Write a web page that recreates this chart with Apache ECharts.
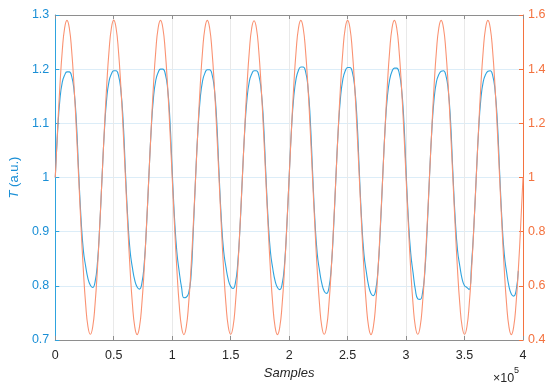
<!DOCTYPE html>
<html>
<head>
<meta charset="utf-8">
<script src="https://cdn.jsdelivr.net/npm/echarts@6/dist/echarts.min.js"></script>
<style>
html,body{margin:0;padding:0;background:#fff;}
#c{width:550px;height:388px;}
</style>
</head>
<body>
<div id="c"></div>
<script>
// x positions in units of 1e5 samples; one value every 0.02 (2000 samples)
const sampleStep = 0.02;
const xTicks = [0, 0.5, 1, 1.5, 2, 2.5, 3, 3.5, 4];
const leftTicks = [0.7, 0.8, 0.9, 1, 1.1, 1.2, 1.3];
const rightTicks = [0.4, 0.6, 0.8, 1, 1.2, 1.4, 1.6];

// Blue series T (left axis)
const blueT = [
  1.000, 1.085, 1.145, 1.176, 1.189, 1.195, 1.195, 1.187, 1.162, 1.105, 1.010, 0.925, 0.866, 0.836, 0.813, 0.801, 0.797, 0.807, 0.841, 0.910,
  1.000, 1.086, 1.146, 1.178, 1.191, 1.197, 1.197, 1.189, 1.163, 1.106, 1.011, 0.924, 0.864, 0.833, 0.810, 0.798, 0.794, 0.804, 0.839, 0.909,
  1.000, 1.087, 1.148, 1.180, 1.194, 1.200, 1.200, 1.192, 1.166, 1.108, 1.012, 0.924, 0.862, 0.826, 0.797, 0.778, 0.779, 0.786, 0.815, 0.900,
  1.000, 1.087, 1.147, 1.179, 1.193, 1.199, 1.199, 1.191, 1.165, 1.107, 1.011, 0.924, 0.864, 0.834, 0.811, 0.799, 0.795, 0.805, 0.840, 0.909,
  1.000, 1.086, 1.146, 1.178, 1.191, 1.197, 1.197, 1.189, 1.163, 1.106, 1.011, 0.923, 0.863, 0.832, 0.809, 0.797, 0.793, 0.803, 0.838, 0.909,
  1.000, 1.089, 1.150, 1.183, 1.198, 1.204, 1.204, 1.196, 1.169, 1.110, 1.013, 0.922, 0.860, 0.828, 0.804, 0.790, 0.786, 0.796, 0.833, 0.906,
  1.000, 1.088, 1.149, 1.182, 1.197, 1.203, 1.203, 1.195, 1.168, 1.109, 1.012, 0.921, 0.858, 0.826, 0.800, 0.786, 0.782, 0.792, 0.830, 0.905,
  1.000, 1.088, 1.149, 1.181, 1.196, 1.202, 1.202, 1.194, 1.167, 1.109, 1.012, 0.922, 0.860, 0.824, 0.792, 0.776, 0.775, 0.786, 0.824, 0.903,
  1.000, 1.086, 1.146, 1.177, 1.190, 1.196, 1.197, 1.189, 1.163, 1.106, 1.011, 0.925, 0.866, 0.836, 0.812, 0.800, 0.797, 0.793, 0.840, 0.910,
  1.000, 1.086, 1.146, 1.177, 1.190, 1.196, 1.197, 1.189, 1.163, 1.106, 1.011, 0.921, 0.858, 0.825, 0.799, 0.785, 0.781, 0.790, 0.828
];

// Orange series (right axis)
const orangeS = [
  1.000, 1.179, 1.341, 1.469, 1.552, 1.580, 1.552, 1.469, 1.341, 1.179, 1.000, 0.821, 0.659, 0.531, 0.448, 0.421, 0.448, 0.531, 0.659, 0.821,
  1.000, 1.179, 1.341, 1.469, 1.552, 1.581, 1.552, 1.469, 1.341, 1.179, 1.000, 0.821, 0.659, 0.531, 0.448, 0.420, 0.448, 0.531, 0.659, 0.821,
  1.000, 1.179, 1.342, 1.470, 1.553, 1.580, 1.552, 1.469, 1.341, 1.179, 1.000, 0.821, 0.659, 0.530, 0.447, 0.420, 0.448, 0.531, 0.659, 0.821,
  1.000, 1.179, 1.341, 1.469, 1.552, 1.580, 1.552, 1.469, 1.341, 1.179, 1.000, 0.821, 0.659, 0.531, 0.448, 0.421, 0.448, 0.531, 0.659, 0.821,
  1.000, 1.179, 1.341, 1.469, 1.552, 1.579, 1.552, 1.469, 1.341, 1.179, 1.000, 0.821, 0.659, 0.531, 0.448, 0.420, 0.448, 0.531, 0.659, 0.821,
  1.000, 1.179, 1.341, 1.469, 1.552, 1.580, 1.552, 1.469, 1.341, 1.179, 1.000, 0.821, 0.659, 0.531, 0.448, 0.421, 0.448, 0.531, 0.659, 0.821,
  1.000, 1.179, 1.341, 1.469, 1.552, 1.580, 1.552, 1.469, 1.341, 1.179, 1.000, 0.821, 0.659, 0.531, 0.448, 0.420, 0.448, 0.531, 0.659, 0.821,
  1.000, 1.179, 1.341, 1.469, 1.552, 1.580, 1.552, 1.469, 1.341, 1.179, 1.000, 0.821, 0.659, 0.531, 0.448, 0.421, 0.448, 0.531, 0.659, 0.821,
  1.000, 1.179, 1.341, 1.469, 1.552, 1.580, 1.552, 1.469, 1.341, 1.179, 1.000, 0.821, 0.659, 0.531, 0.448, 0.421, 0.448, 0.531, 0.659, 0.821,
  1.000, 1.179, 1.341, 1.469, 1.552, 1.580, 1.552, 1.469, 1.341, 1.179, 1.000, 0.821, 0.659, 0.531, 0.448, 0.420, 0.448, 0.531, 0.659, 0.821,
  1.000
];

const BLUE_LINE = '#2ea3de';
const BLUE_TEXT = '#1a8fd6';
const ORANGE_LINE = '#fa9272';
const ORANGE_TEXT = '#f4723f';
const AX_GREY = '#8e8e8e';
const FONT = '"Liberation Sans", Arial, Helvetica, sans-serif';

const toPairs = arr => arr.map((v, i) => [+(i * sampleStep).toFixed(2), v]);
const fmt = v => String(+v.toFixed(1));

const chart = echarts.init(document.getElementById('c'), null, {renderer: 'canvas'});
chart.setOption({
  animation: false,
  backgroundColor: '#fff',
  textStyle: {fontFamily: FONT},
  grid: {left: 46, right: 27, top: 15, bottom: 48, containLabel: false},
  xAxis: [
    {
      type: 'value', min: xTicks[0], max: xTicks[xTicks.length - 1], interval: 0.5, position: 'bottom',
      axisLine: {onZero: false, lineStyle: {color: AX_GREY, width: 1}},
      axisTick: {inside: true, length: 4, lineStyle: {color: AX_GREY}},
      axisLabel: {color: '#262626', fontSize: 12.5, margin: 9, fontFamily: FONT, formatter: v => String(v)},
      splitLine: {show: true, lineStyle: {color: '#e9e9e9', width: 1}},
      name: 'Samples', nameLocation: 'middle', nameGap: 26,
      nameTextStyle: {fontStyle: 'italic', fontSize: 13, color: '#262626', fontFamily: FONT}
    },
    {
      type: 'value', min: xTicks[0], max: xTicks[xTicks.length - 1], interval: 0.5, position: 'top',
      axisLine: {onZero: false, lineStyle: {color: AX_GREY, width: 1}},
      axisTick: {inside: true, length: 4, lineStyle: {color: AX_GREY}},
      axisLabel: {show: false}, splitLine: {show: false}
    }
  ],
  yAxis: [
    {
      type: 'value', min: leftTicks[0], max: leftTicks[leftTicks.length - 1], interval: 0.1, position: 'left',
      axisLine: {show: true, onZero: false, lineStyle: {color: BLUE_LINE, width: 1}},
      axisTick: {show: true, inside: true, length: 4, lineStyle: {color: BLUE_LINE}},
      axisLabel: {color: BLUE_TEXT, fontSize: 12.5, margin: 6, fontFamily: FONT, formatter: fmt},
      splitLine: {show: true, lineStyle: {color: '#dcedf8', width: 1}},
      name: '{i|T} (a.u.)', nameLocation: 'middle', nameGap: 24, nameRotate: 90,
      nameTextStyle: {color: BLUE_TEXT, fontSize: 13, fontFamily: FONT,
        rich: {i: {fontStyle: 'italic', color: BLUE_TEXT, fontSize: 13, fontFamily: FONT}}}
    },
    {
      type: 'value', min: rightTicks[0], max: rightTicks[rightTicks.length - 1], interval: 0.2, position: 'right',
      axisLine: {show: true, onZero: false, lineStyle: {color: ORANGE_TEXT, width: 1}},
      axisTick: {show: true, inside: true, length: 4, lineStyle: {color: ORANGE_TEXT}},
      axisLabel: {color: ORANGE_TEXT, fontSize: 12.5, margin: 5, fontFamily: FONT, formatter: fmt},
      splitLine: {show: false}
    }
  ],
  series: [
    {
      type: 'line', xAxisIndex: 0, yAxisIndex: 0, data: toPairs(blueT),
      smooth: true, showSymbol: false, symbol: 'none',
      lineStyle: {color: BLUE_LINE, width: 1.1}, z: 3
    },
    {
      type: 'line', xAxisIndex: 0, yAxisIndex: 1, data: toPairs(orangeS),
      smooth: true, showSymbol: false, symbol: 'none',
      lineStyle: {color: ORANGE_LINE, width: 1.1}, z: 4
    }
  ],
  graphic: [
    {type: 'text', left: 493, top: 372, style: {text: '×10', fill: '#262626', font: '12.5px ' + FONT}},
    {type: 'text', left: 514, top: 366, style: {text: '5', fill: '#262626', font: '9px ' + FONT}}
  ]
});
</script>
</body>
</html>
